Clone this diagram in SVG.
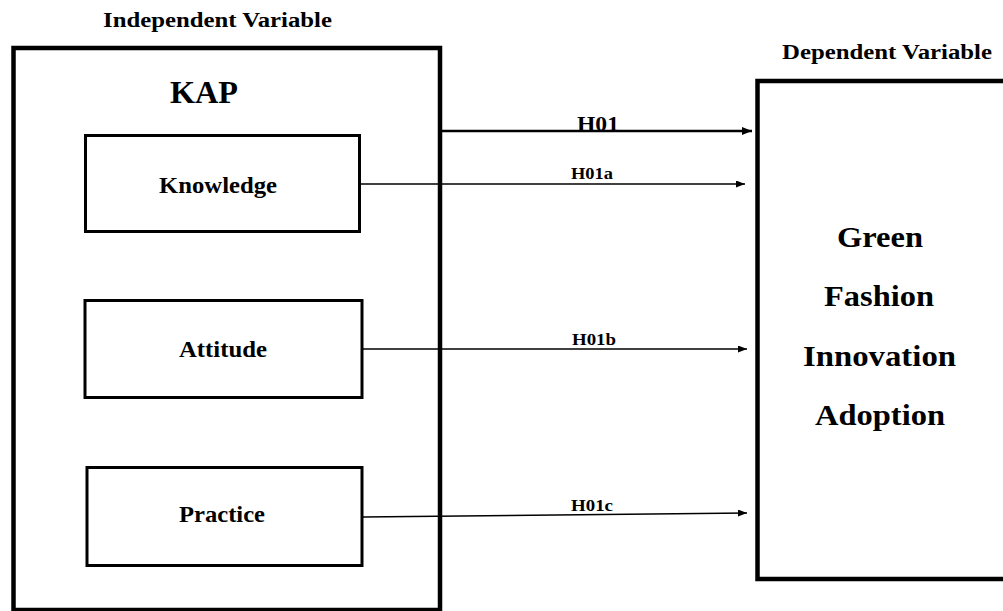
<svg xmlns="http://www.w3.org/2000/svg" width="1003" height="611" viewBox="0 0 1003 611">
<style>
text{font-weight:700;fill:#000;text-anchor:middle}
.box{fill:none;stroke:#000}
.big{stroke-width:4.5}
.small{stroke-width:3}
.conn{stroke:#000;fill:none}
</style>
<defs>
<marker id="ahBig" markerUnits="userSpaceOnUse" markerWidth="11" markerHeight="9" refX="10" refY="4" orient="auto"><path d="M0,0 L10,4 L0,8 z" fill="#000"/></marker>
<marker id="ahSmall" markerUnits="userSpaceOnUse" markerWidth="10" markerHeight="8" refX="9" refY="3.5" orient="auto"><path d="M0,0 L9,3.5 L0,7 z" fill="#000"/></marker>
</defs>
<rect width="1003" height="611" fill="#fff"/>
<g font-family="Liberation Serif, DejaVu Serif, serif">
<text x="217.5" y="27" font-size="20" textLength="229" lengthAdjust="spacingAndGlyphs">Independent Variable</text>
<text x="887" y="59" font-size="20" textLength="210" lengthAdjust="spacingAndGlyphs">Dependent Variable</text>
<g id="kap">
<rect class="box big" x="13.5" y="48" width="426.5" height="562"/>
<text x="204" y="103" font-size="32" textLength="68" lengthAdjust="spacingAndGlyphs">KAP</text>
</g>
<g id="knowledge">
<rect class="box small" x="85.5" y="135.5" width="274" height="96"/>
<text x="218" y="193" font-size="23" textLength="118" lengthAdjust="spacingAndGlyphs">Knowledge</text>
</g>
<g id="attitude">
<rect class="box small" x="85" y="300.5" width="277" height="97"/>
<text x="223" y="357" font-size="23" textLength="88" lengthAdjust="spacingAndGlyphs">Attitude</text>
</g>
<g id="practice">
<rect class="box small" x="87" y="467.5" width="275" height="98"/>
<text x="222" y="522" font-size="23" textLength="86" lengthAdjust="spacingAndGlyphs">Practice</text>
</g>
<g id="gfia">
<rect class="box big" x="757.5" y="81" width="260" height="498"/>
<text x="880" y="247" font-size="30" textLength="86" lengthAdjust="spacingAndGlyphs">Green</text>
<text x="879" y="306" font-size="30" textLength="110" lengthAdjust="spacingAndGlyphs">Fashion</text>
<text x="879.5" y="366" font-size="30" textLength="153" lengthAdjust="spacingAndGlyphs">Innovation</text>
<text x="880" y="425" font-size="30" textLength="130" lengthAdjust="spacingAndGlyphs">Adoption</text>
</g>
<g id="connectors">
<line class="conn" x1="440" y1="131" x2="752" y2="131" stroke-width="2.5" marker-end="url(#ahBig)"/>
<line class="conn" x1="361" y1="184" x2="745" y2="184" stroke-width="1.5" marker-end="url(#ahSmall)"/>
<line class="conn" x1="363" y1="349" x2="747" y2="349" stroke-width="1.5" marker-end="url(#ahSmall)"/>
<line class="conn" x1="363" y1="517" x2="747" y2="513" stroke-width="1.5" marker-end="url(#ahSmall)"/>
<text x="598" y="131" font-size="22" textLength="42" lengthAdjust="spacingAndGlyphs">H01</text>
<text x="592" y="179" font-size="17" textLength="42" lengthAdjust="spacingAndGlyphs">H01a</text>
<text x="594" y="345" font-size="17" textLength="44" lengthAdjust="spacingAndGlyphs">H01b</text>
<text x="592" y="511" font-size="17" textLength="42" lengthAdjust="spacingAndGlyphs">H01c</text>
</g>
</g>
</svg>
